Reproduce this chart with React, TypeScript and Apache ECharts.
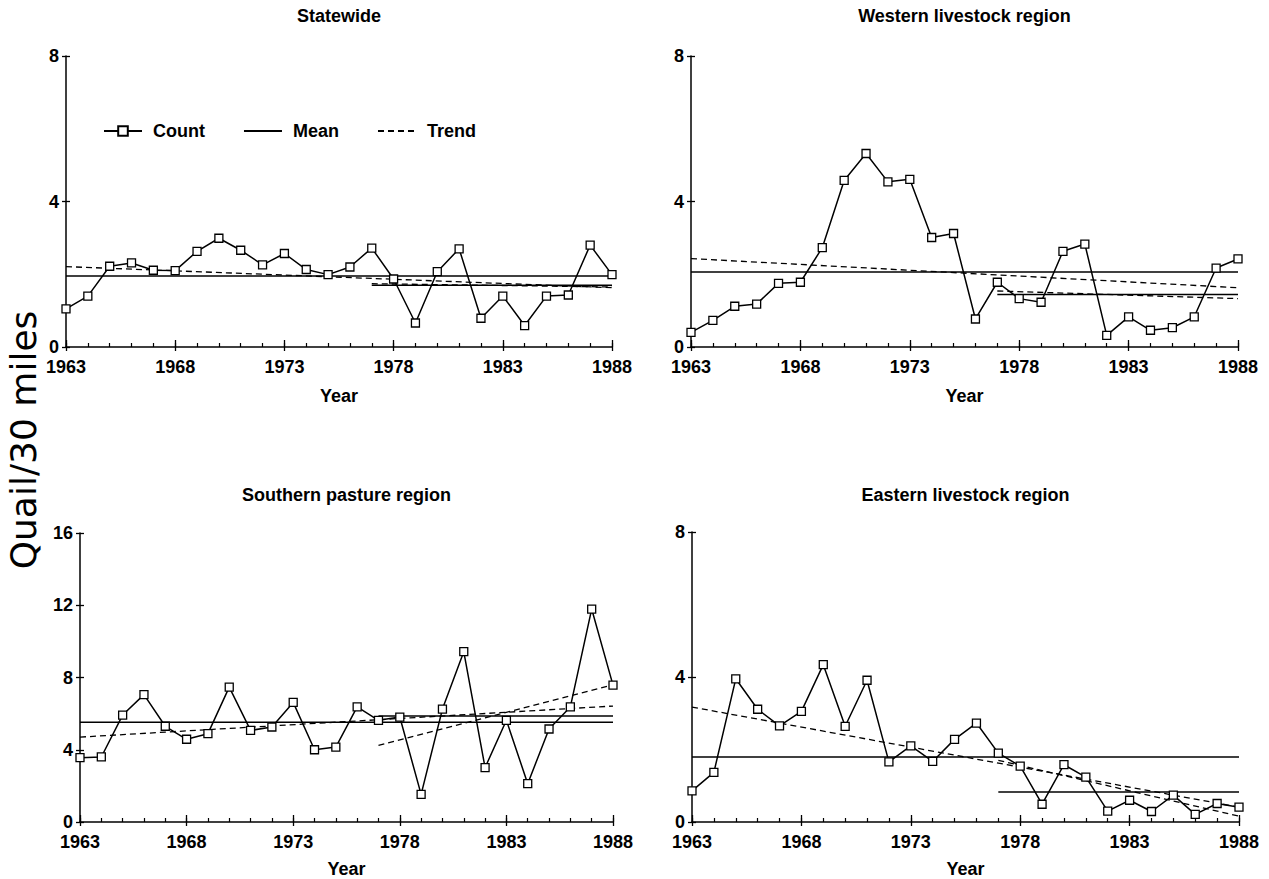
import React, { useEffect, useRef } from "react";
import * as echarts from "echarts";

// ---- data ----
const years = [
  1963, 1964, 1965, 1966, 1967, 1968, 1969, 1970, 1971, 1972, 1973, 1974, 1975,
  1976, 1977, 1978, 1979, 1980, 1981, 1982, 1983, 1984, 1985, 1986, 1987, 1988,
];
const majorYears = [1963, 1968, 1973, 1978, 1983, 1988];
const recentStart = 1977;
const endYear = 1988;

const panelTitles = [
  "Statewide",
  "Western livestock region",
  "Southern pasture region",
  "Eastern livestock region",
];
const yMaxes = [8, 8, 16, 8];
const yTicksSmall = [0, 4, 8];
const yTicksLarge = [0, 4, 8, 12, 16];

const statewideCount = [1.05, 1.4, 2.22, 2.31, 2.11, 2.1, 2.63, 2.99, 2.66, 2.26, 2.57, 2.13, 1.99, 2.2, 2.72, 1.87, 0.66, 2.07, 2.7, 0.79, 1.4, 0.59, 1.4, 1.43, 2.8, 1.99];
const westernCount = [0.4, 0.73, 1.12, 1.18, 1.75, 1.78, 2.73, 4.58, 5.32, 4.54, 4.61, 3.01, 3.12, 0.77, 1.78, 1.33, 1.23, 2.63, 2.83, 0.32, 0.83, 0.46, 0.53, 0.83, 2.17, 2.42];
const southernCount = [3.56, 3.6, 5.92, 7.05, 5.3, 4.58, 4.89, 7.47, 5.07, 5.26, 6.62, 4.0, 4.15, 6.37, 5.63, 5.81, 1.53, 6.25, 9.43, 3.01, 5.63, 2.12, 5.15, 6.37, 11.79, 7.58];
const easternCount = [0.86, 1.37, 3.95, 3.11, 2.65, 3.05, 4.34, 2.64, 3.91, 1.66, 2.1, 1.67, 2.28, 2.73, 1.9, 1.54, 0.49, 1.58, 1.24, 0.3, 0.6, 0.29, 0.74, 0.21, 0.51, 0.41];

// [whole period mean, 1977-1988 mean]
const statewideMean = [1.95, 1.7];
const westernMean = [2.06, 1.44];
const southernMean = [5.52, 5.87];
const easternMean = [1.79, 0.83];

// trend line end values: [1963, 1988] and [1977, 1988]
const statewideTrend = [2.21, 1.63];
const statewideTrendRecent = [1.74, 1.65];
const westernTrend = [2.43, 1.63];
const westernTrendRecent = [1.54, 1.33];
const southernTrend = [4.7, 6.42];
const southernTrendRecent = [4.24, 7.6];
const easternTrend = [3.17, 0.41];
const easternTrendRecent = [1.7, 0.16];

const counts = [statewideCount, westernCount, southernCount, easternCount];
const means = [statewideMean, westernMean, southernMean, easternMean];
const trends = [statewideTrend, westernTrend, southernTrend, easternTrend];
const trendsRecent = [statewideTrendRecent, westernTrendRecent, southernTrendRecent, easternTrendRecent];

// ---- layout ----
const grids = [
  { left: 66, top: 56, width: 546, height: 291 },
  { left: 691, top: 56, width: 547, height: 291 },
  { left: 80, top: 533, width: 533, height: 289 },
  { left: 692, top: 532, width: 547, height: 290 },
];
const titleTops = [7, 7, 486, 486];
const nameGaps = [40, 40, 38, 38];

const FONT = "Liberation Sans";
const BLACK = "#000";

export default function App() {
  const ref = useRef<HTMLDivElement>(null);

  useEffect(() => {
    document.body.style.margin = "0";
    if (!ref.current) return;
    const chart = echarts.init(ref.current, null, { renderer: "svg" });

    const xAxes: any[] = [];
    const yAxes: any[] = [];
    const series: any[] = [];
    const titles: any[] = [];

    grids.forEach((g, i) => {
      const axLine = { color: BLACK, width: 1.5 };
      // primary x axis: line, labels, yearly inside ticks
      xAxes.push({
        type: "value",
        gridIndex: i,
        position: "bottom",
        min: years[0],
        max: endYear,
        name: "Year",
        nameLocation: "middle",
        nameGap: nameGaps[i],
        nameTextStyle: { color: BLACK, fontSize: 18, fontWeight: "bold", fontFamily: FONT },
        axisLine: { show: true, onZero: false, lineStyle: axLine },
        axisTick: { show: true, inside: true, length: 4, customValues: years, lineStyle: { color: BLACK, width: 1.2 } },
        axisLabel: {
          show: true,
          customValues: majorYears,
          margin: 11,
          color: BLACK,
          fontSize: 18,
          fontWeight: "bold",
          fontFamily: FONT,
          formatter: (v: number) => String(v),
        },
        splitLine: { show: false },
      });
      // major ticks inside (longer)
      xAxes.push({
        type: "value",
        gridIndex: i,
        position: "bottom",
        min: years[0],
        max: endYear,
        axisLine: { show: false, onZero: false },
        axisTick: { show: true, inside: true, length: 7, customValues: majorYears, lineStyle: { color: BLACK, width: 1.3 } },
        axisLabel: { show: false },
        splitLine: { show: false },
      });
      // major ticks outside
      xAxes.push({
        type: "value",
        gridIndex: i,
        position: "bottom",
        min: years[0],
        max: endYear,
        axisLine: { show: false, onZero: false },
        axisTick: { show: true, inside: false, length: 4, customValues: majorYears, lineStyle: { color: BLACK, width: 1.3 } },
        axisLabel: { show: false },
        splitLine: { show: false },
      });

      const yt = yMaxes[i] > 8 ? yTicksLarge : yTicksSmall;
      yAxes.push({
        type: "value",
        gridIndex: i,
        position: "left",
        min: 0,
        max: yMaxes[i],
        interval: 4,
        axisLine: { show: true, onZero: false, lineStyle: axLine },
        axisTick: { show: true, inside: false, length: 4, customValues: yt, lineStyle: { color: BLACK, width: 1.3 } },
        axisLabel: { show: true, margin: 7, color: BLACK, fontSize: 18, fontWeight: "bold", fontFamily: FONT },
        splitLine: { show: false },
      });
      yAxes.push({
        type: "value",
        gridIndex: i,
        position: "left",
        min: 0,
        max: yMaxes[i],
        interval: 4,
        axisLine: { show: false, onZero: false },
        axisTick: { show: true, inside: true, length: 4, customValues: yt, lineStyle: { color: BLACK, width: 1.3 } },
        axisLabel: { show: false },
        splitLine: { show: false },
      });

      titles.push({
        text: panelTitles[i],
        left: g.left + g.width / 2,
        top: titleTops[i],
        textAlign: "center",
        padding: 0,
        textStyle: { color: BLACK, fontSize: 18, fontWeight: "bold", fontFamily: FONT },
      });

      const xi = i * 3;
      const yi = i * 2;
      const solid = { color: BLACK, width: 1.5, type: "solid" };
      const dashed = { color: BLACK, width: 1.3, type: [6, 4] };

      series.push({
        name: "Mean",
        type: "line",
        xAxisIndex: xi,
        yAxisIndex: yi,
        symbol: "none",
        lineStyle: solid,
        itemStyle: { color: BLACK },
        z: 2,
        data: [
          [years[0], means[i][0]],
          [endYear, means[i][0]],
        ],
      });
      series.push({
        name: "Mean",
        type: "line",
        xAxisIndex: xi,
        yAxisIndex: yi,
        symbol: "none",
        lineStyle: solid,
        itemStyle: { color: BLACK },
        z: 2,
        data: [
          [recentStart, means[i][1]],
          [endYear, means[i][1]],
        ],
      });
      series.push({
        name: "Trend",
        type: "line",
        xAxisIndex: xi,
        yAxisIndex: yi,
        symbol: "none",
        lineStyle: dashed,
        itemStyle: { color: BLACK },
        z: 2,
        data: [
          [years[0], trends[i][0]],
          [endYear, trends[i][1]],
        ],
      });
      series.push({
        name: "Trend",
        type: "line",
        xAxisIndex: xi,
        yAxisIndex: yi,
        symbol: "none",
        lineStyle: dashed,
        itemStyle: { color: BLACK },
        z: 2,
        data: [
          [recentStart, trendsRecent[i][0]],
          [endYear, trendsRecent[i][1]],
        ],
      });
      series.push({
        name: "Count",
        type: "line",
        xAxisIndex: xi,
        yAxisIndex: yi,
        symbol: "rect",
        symbolSize: 8,
        lineStyle: { color: BLACK, width: 1.5 },
        itemStyle: { color: "#fff", borderColor: BLACK, borderWidth: 1.3 },
        z: 5,
        data: years.map((y, k) => [y, counts[i][k]]),
      });
    });

    chart.setOption({
      animation: false,
      backgroundColor: "#fff",
      textStyle: { fontFamily: FONT },
      title: titles,
      grid: grids.map((g) => ({ ...g, containLabel: false })),
      xAxis: xAxes,
      yAxis: yAxes,
      legend: {
        data: [
          { name: "Count" },
          { name: "Mean", itemStyle: { opacity: 0 } },
          { name: "Trend", itemStyle: { opacity: 0 } },
        ],
        left: 103,
        top: 122,
        itemWidth: 38,
        itemHeight: 12,
        itemGap: 38,
        padding: 0,
        selectedMode: false,
        textStyle: { color: BLACK, fontSize: 18, fontWeight: "bold", fontFamily: FONT, padding: [0, 0, 0, 6] },
      },
      graphic: [
        {
          type: "text",
          x: 23,
          y: 440,
          rotation: Math.PI / 2,
          style: {
            text: "Quail/30 miles",
            fontSize: 36,
            fontFamily: "DejaVu Sans",
            fontWeight: "normal",
            fill: BLACK,
            align: "center",
            verticalAlign: "middle",
          },
        },
      ],
      series,
    });

    return () => chart.dispose();
  }, []);

  return <div ref={ref} style={{ width: 1269, height: 879 }} />;
}
